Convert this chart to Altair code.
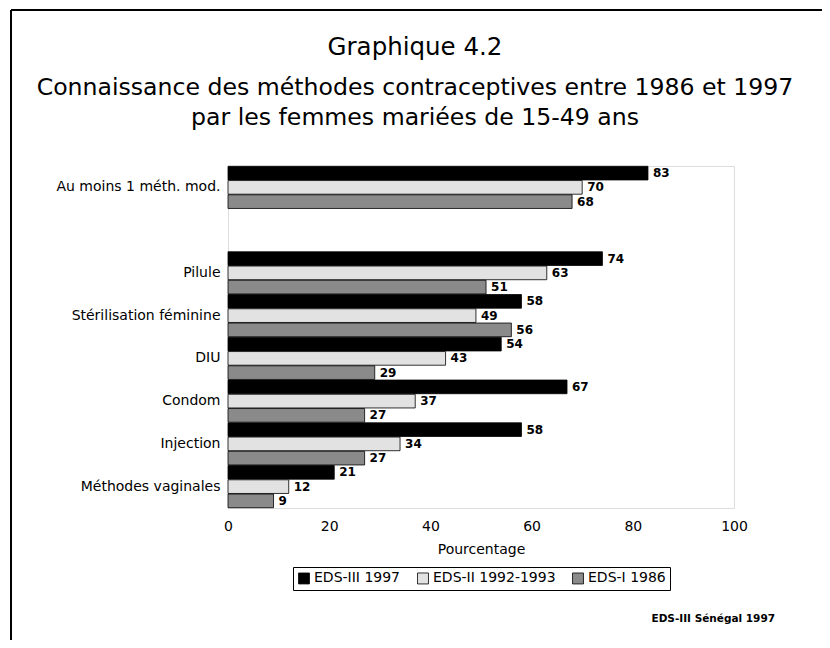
import altair as alt
import pandas as pd

categories = ["Au moins 1 méth. mod.", " ", "Pilule", "Stérilisation féminine", "DIU",
              "Condom", "Injection", "Méthodes vaginales"]
data_categories = ["Au moins 1 méth. mod.", "Pilule", "Stérilisation féminine", "DIU",
                   "Condom", "Injection", "Méthodes vaginales"]
series = ["EDS-III 1997", "EDS-II 1992-1993", "EDS-I 1986"]
eds3_1997 = [83, 74, 58, 54, 67, 58, 21]
eds2_1992 = [70, 63, 49, 43, 37, 34, 12]
eds1_1986 = [68, 51, 56, 29, 27, 27, 9]

title_lines = ["Graphique 4.2",
               "Connaissance des méthodes contraceptives entre 1986 et 1997",
               "par les femmes mariées de 15-49 ans"]
source_text = ["EDS-III Sénégal 1997"]

rows = []
for s, vals in zip(series, [eds3_1997, eds2_1992, eds1_1986]):
    for c, v in zip(data_categories, vals):
        rows.append({"cat": c, "serie": s, "val": v})
df = pd.DataFrame(rows)

FONT = "DejaVu Sans"

y_enc = alt.Y("cat:N", scale=alt.Scale(domain=categories, paddingInner=0, paddingOuter=0),
              axis=alt.Axis(title=None, ticks=False, domain=False, labelFontSize=14,
                            labelFont=FONT, labelColor="black", labelPadding=8))
yoff_enc = alt.YOffset("serie:N", scale=alt.Scale(domain=series, paddingInner=0.04, paddingOuter=0.02))
x_enc = alt.X("val:Q", scale=alt.Scale(domain=[0, 100]),
              axis=alt.Axis(title="Pourcentage", values=[0, 20, 40, 60, 80, 100], grid=False,
                            ticks=False, domain=False, labelFontSize=14, labelFont=FONT,
                            labelColor="black", labelPadding=11, labelFlush=False,
                            titleFontSize=14, titleFont=FONT, titleFontWeight="normal",
                            titleColor="black", titlePadding=9))

base = alt.Chart(df).encode(y=y_enc, yOffset=yoff_enc)

bars = base.mark_bar(stroke="black", strokeWidth=0.8).encode(
    x=x_enc,
    fill=alt.Fill("serie:N",
                  scale=alt.Scale(domain=series, range=["#000000", "#e2e2e2", "#8a8a8a"]),
                  legend=alt.Legend(orient="none", legendX=65, legendY=401, direction="horizontal",
                                    title=None, strokeColor="black", padding=4,
                                    labelFontSize=14, labelFont=FONT, labelColor="black",
                                    symbolType="square", symbolSize=120,
                                    symbolStrokeColor="black", symbolStrokeWidth=0.8,
                                    columnPadding=14, labelOffset=3)),
)

labels = base.mark_text(align="left", baseline="middle", dx=5, fontSize=12,
                        fontWeight="bold", font=FONT, color="black").encode(
    x="val:Q", text="val:Q")

source = alt.Chart(pd.DataFrame({"t": source_text})).mark_text(
    align="right", baseline="alphabetic", fontSize=10.5, fontWeight="bold", font=FONT,
    color="black").encode(x=alt.value(547), y=alt.value(456), text="t:N")

t1 = alt.Chart(pd.DataFrame({"t": [title_lines[0]]})).mark_text(
    align="center", baseline="alphabetic", fontSize=24.5, font=FONT, color="black").encode(
    x=alt.value(187), y=alt.value(-111), text="t:N")
t2 = alt.Chart(pd.DataFrame({"t": [title_lines[1]]})).mark_text(
    align="center", baseline="alphabetic", fontSize=23.6, font=FONT, color="black").encode(
    x=alt.value(187), y=alt.value(-71), text="t:N")
t3 = alt.Chart(pd.DataFrame({"t": [title_lines[2]]})).mark_text(
    align="center", baseline="alphabetic", fontSize=23.6, font=FONT, color="black").encode(
    x=alt.value(187), y=alt.value(-41), text="t:N")

frame_top = alt.Chart(pd.DataFrame({"a": [0]})).mark_rule(color="black", strokeWidth=2).encode(
    x=alt.value(-217), x2=alt.value(620), y=alt.value(-156))
frame_left = alt.Chart(pd.DataFrame({"a": [0]})).mark_rule(color="black", strokeWidth=2).encode(
    x=alt.value(-217), y=alt.value(-156), y2=alt.value(500))

chart = alt.layer(bars, labels, source, t1, t2, t3, frame_top, frame_left).properties(
    width=506, height=342,
    autosize=alt.AutoSizeParams(type="none"),
    padding={"left": 220, "top": 158, "right": 88, "bottom": 132},
).configure_view(stroke="black", strokeWidth=1).configure(background="white")

chart.save("out.html", embed_options={"renderer": "svg", "actions": False})
